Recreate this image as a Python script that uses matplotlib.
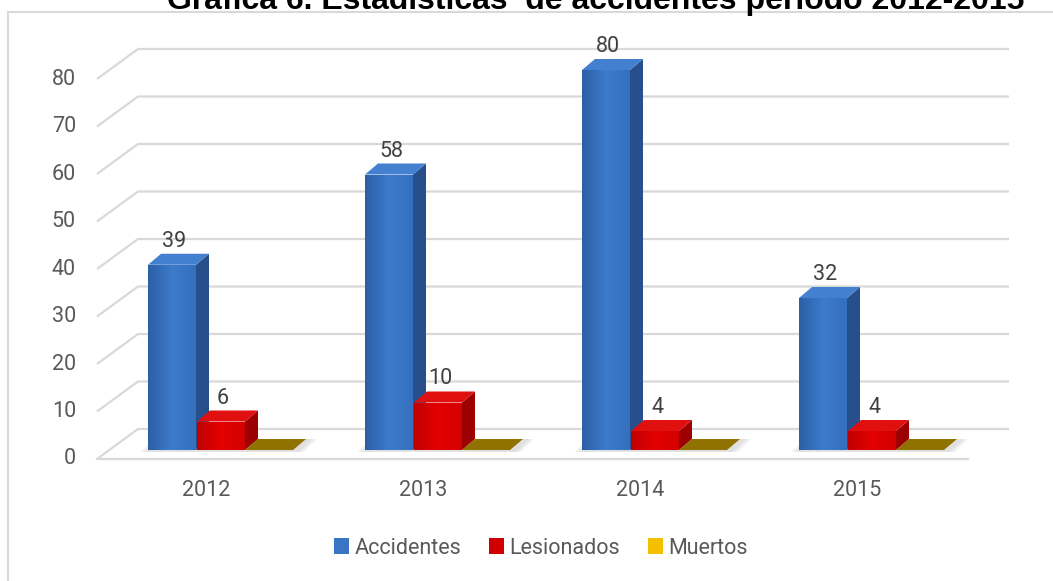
import numpy as np
import matplotlib.pyplot as plt
from matplotlib.patches import Polygon, Patch
from matplotlib.lines import Line2D
from matplotlib.colors import LinearSegmentedColormap

# data
years = ['2012', '2013', '2014', '2015']
accidentes = [39, 58, 80, 32]
lesionados = [6, 10, 4, 4]
muertos = [0, 0, 0, 0]
series_names = ['Accidentes', 'Lesionados', 'Muertos']
yticks = [0, 10, 20, 30, 40, 50, 60, 70, 80]
title = 'Gráfica 6. Estadísticas  de accidentes periodo 2012-2015'

# colours per series: front gradient (left, mid, right), side, top, legend
front_cols = [['#2c5fa6', '#3d7bcb', '#3570bf'],
              ['#c00000', '#e40000', '#d20000'],
              ['#8a6c00', '#8a6c00', '#8a6c00']]
side_cols = ['#264f8c', '#9c0000', '#6f5600']
top_cols = ['#4380cf', '#e01010', '#8f7200']
legend_cols = ['#3a74c4', '#d00000', '#f2c000']
grid_col = '#d9d9d9'
text_col = '#595959'

# geometry (x in category units, y in value units)
PXX, PXY = 217.0, 4.75          # pixels per unit
W = 48 / PXX                    # bar front width
offsets = [-58 / PXX, -9 / PXX, 39 / PXX]
DXB, DYB = 13 / PXX, 11 / PXY   # bar depth
BASE = 9 / PXY                  # bar base above the front floor line
WALL_L, WALL_R = -109 / PXX, 762 / PXX
DXW, DYW = 41 / PXX, 30 / PXY   # wall depth

fig = plt.figure(figsize=(10.53, 5.81), dpi=100)
ax = fig.add_axes([0, 0, 1, 1])
ax.axis('off')

# gridlines: side wall diagonals and back wall
for v in yticks:
    ax.plot([WALL_L, WALL_L + DXW, WALL_R + DXW], [v, v + DYW, v + DYW],
            color=grid_col, lw=1.6, zorder=1, solid_capstyle='butt')
    ax.text(WALL_L - 21 / PXX, v, str(v), ha='right', va='center',
            fontsize=15.5, color=text_col, family='Roboto')
ax.plot([WALL_L, WALL_R], [0, 0], color=grid_col, lw=1.6, zorder=1)

series = [accidentes, lesionados, muertos]
for i, yr in enumerate(years):
    # soft floor shadow around the group
    x0 = i + offsets[0]
    for k, a in enumerate([0.10, 0.10, 0.12]):
        g = 0.012 * (3 - k)
        shadow = Polygon([(x0 - g, BASE - 0.4), (x0 + 3 * W + g + 0.02, BASE - 0.4),
                          (x0 + 3 * W + g + 0.02 + DXB, BASE + DYB),
                          (x0 - g + DXB, BASE + DYB)],
                         closed=True, fc='#9a9a9a', ec='none', alpha=a, zorder=2)
        ax.add_patch(shadow)
    for s, vals in enumerate(series):
        h = vals[i]
        xl = i + offsets[s]
        xr = xl + W
        yb, yt = BASE, BASE + h
        z = 3 + s
        if h > 0:
            front = Polygon([(xl, yb), (xr, yb), (xr, yt), (xl, yt)],
                            closed=True, fc='none', ec='none', zorder=z)
            ax.add_patch(front)
            cmap = LinearSegmentedColormap.from_list('f%d' % s, front_cols[s])
            grad = np.linspace(0, 1, 64).reshape(1, -1)
            im = ax.imshow(grad, extent=(xl, xr, yb, yt), cmap=cmap,
                           aspect='auto', zorder=z, interpolation='bilinear')
            im.set_clip_path(front)
            side = Polygon([(xr, yb), (xr + DXB, yb + DYB), (xr + DXB, yt + DYB),
                            (xr, yt)], closed=True, fc=side_cols[s], ec='none',
                           zorder=z)
            ax.add_patch(side)
        top = Polygon([(xl, yt), (xr, yt), (xr + DXB, yt + DYB), (xl + DXB, yt + DYB)],
                      closed=True, fc=top_cols[s], ec='none', zorder=z)
        ax.add_patch(top)
        if s < 2:
            ax.text(xl + W / 2 + 0.01, yt + DYB + 7 / PXY, str(h), ha='center',
                    va='baseline', fontsize=15.5, color='#404040', family='Roboto',
                    zorder=10)
    ax.text(i, -31 / PXY, yr, ha='center', va='center', fontsize=15.5,
            color=text_col, family='Roboto')

ax.set_xlim(-206 / PXX, (1053 - 206) / PXX)
ax.set_ylim(-(581 - 459) / PXY, 459 / PXY)

# legend
handles = [Patch(fc=c, ec='none') for c in legend_cols]
fig.legend(handles, series_names, loc='center', bbox_to_anchor=(541 / 1053, 1 - 548 / 581),
           ncol=3, frameon=False, handlelength=0.7, handleheight=0.7,
           handletextpad=0.25, columnspacing=1.3,
           prop={'family': 'Roboto', 'size': 15.5}, labelcolor=text_col)

# chart frame (left and top edges visible)
fig.add_artist(Line2D([8 / 1053, 8 / 1053], [0, 1 - 12 / 581], color=grid_col, lw=1.5))
fig.add_artist(Line2D([8 / 1053, 1], [1 - 12 / 581, 1 - 12 / 581], color=grid_col, lw=1.5))

# title, cut off by the top edge as in the source
fig.text(596 / 1053, 1 - 9 / 581, title, ha='center', va='baseline', fontsize=23,
         fontweight='bold', family='Liberation Sans', color='black')

fig.savefig('out.png', dpi=100)
